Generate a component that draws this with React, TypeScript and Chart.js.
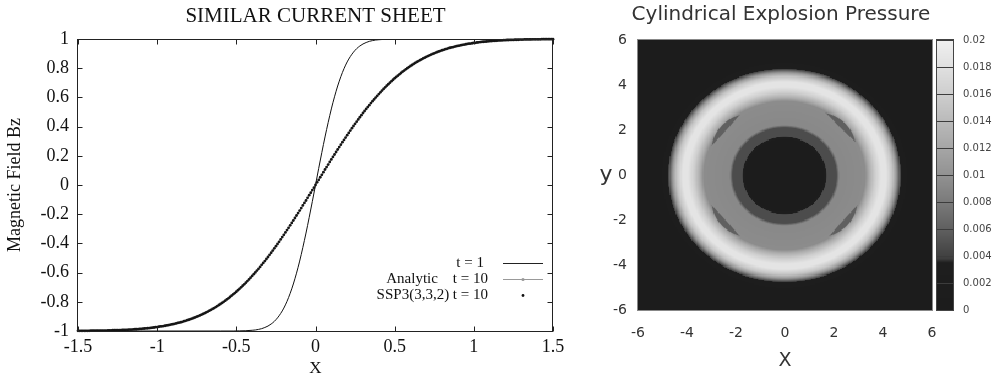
import React, { useEffect, useRef } from "react";
import { Chart, registerables } from "chart.js";
Chart.register(...registerables);

const SERIF = "'Liberation Serif', 'Times New Roman', serif";
const SANS = "'DejaVu Sans', 'Bitstream Vera Sans', sans-serif";

// ---------------- Left panel: similar current sheet ----------------
const leftTitle = "SIMILAR CURRENT SHEET";
const leftXTitle = "X";
const leftYTitle = "Magnetic Field Bz";
const xTicksLeft = [-1.5, -1, -0.5, 0, 0.5, 1, 1.5];
const yTicksLeft = [-1, -0.8, -0.6, -0.4, -0.2, 0, 0.2, 0.4, 0.6, 0.8, 1];
const legendLabels = ["t = 1", "Analytic    t = 10", "SSP3(3,3,2) t = 10"];

// t = 1 curve
const t1X = [-1.5, -1.0, -0.6, -0.52, -0.48, -0.44,
  -0.4, -0.38, -0.36, -0.34, -0.32, -0.3, -0.28, -0.26, -0.24, -0.22,
  -0.2, -0.18, -0.16, -0.14, -0.12, -0.1, -0.08, -0.06, -0.04, -0.02,
  0,
  0.02, 0.04, 0.06, 0.08, 0.1, 0.12, 0.14, 0.16, 0.18, 0.2,
  0.22, 0.24, 0.26, 0.28, 0.3, 0.32, 0.34, 0.36, 0.38, 0.4,
  0.44, 0.48, 0.52, 0.6, 1.0, 1.5];
const t1Y = [-1, -1, -1, -1, -0.999, -0.998,
  -0.995, -0.993, -0.989, -0.984, -0.976, -0.966, -0.952, -0.934, -0.910, -0.880,
  -0.843, -0.797, -0.742, -0.678, -0.604, -0.521, -0.428, -0.329, -0.223, -0.113,
  0,
  0.113, 0.223, 0.329, 0.428, 0.521, 0.604, 0.678, 0.742, 0.797, 0.843,
  0.880, 0.910, 0.934, 0.952, 0.966, 0.976, 0.984, 0.989, 0.993, 0.995,
  0.998, 0.999, 1, 1, 1, 1];

// Analytic t = 10
const anaX = [-1.5, -1.4, -1.3, -1.2, -1.1, -1.0, -0.9, -0.8, -0.7, -0.6, -0.5, -0.4, -0.3, -0.2, -0.1,
  0, 0.1, 0.2, 0.3, 0.4, 0.5, 0.6, 0.7, 0.8, 0.9, 1.0, 1.1, 1.2, 1.3, 1.4, 1.5];
const anaY = [-0.999, -0.998, -0.996, -0.992, -0.985, -0.973, -0.953, -0.923, -0.878, -0.815, -0.731, -0.623, -0.493, -0.341, -0.175,
  0, 0.175, 0.341, 0.493, 0.623, 0.731, 0.815, 0.878, 0.923, 0.953, 0.973, 0.985, 0.992, 0.996, 0.998, 0.999];

// SSP3(3,3,2) t = 10 points
const dotX = [
  -1.5, -1.49, -1.48, -1.47, -1.46, -1.45, -1.44, -1.43, -1.42, -1.41,
  -1.4, -1.39, -1.38, -1.37, -1.36, -1.35, -1.34, -1.33, -1.32, -1.31,
  -1.3, -1.29, -1.28, -1.27, -1.26, -1.25, -1.24, -1.23, -1.22, -1.21,
  -1.2, -1.19, -1.18, -1.17, -1.16, -1.15, -1.14, -1.13, -1.12, -1.11,
  -1.1, -1.09, -1.08, -1.07, -1.06, -1.05, -1.04, -1.03, -1.02, -1.01,
  -1.0, -0.99, -0.98, -0.97, -0.96, -0.95, -0.94, -0.93, -0.92, -0.91,
  -0.9, -0.89, -0.88, -0.87, -0.86, -0.85, -0.84, -0.83, -0.82, -0.81,
  -0.8, -0.79, -0.78, -0.77, -0.76, -0.75, -0.74, -0.73, -0.72, -0.71,
  -0.7, -0.69, -0.68, -0.67, -0.66, -0.65, -0.64, -0.63, -0.62, -0.61,
  -0.6, -0.59, -0.58, -0.57, -0.56, -0.55, -0.54, -0.53, -0.52, -0.51,
  -0.5, -0.49, -0.48, -0.47, -0.46, -0.45, -0.44, -0.43, -0.42, -0.41,
  -0.4, -0.39, -0.38, -0.37, -0.36, -0.35, -0.34, -0.33, -0.32, -0.31,
  -0.3, -0.29, -0.28, -0.27, -0.26, -0.25, -0.24, -0.23, -0.22, -0.21,
  -0.2, -0.19, -0.18, -0.17, -0.16, -0.15, -0.14, -0.13, -0.12, -0.11,
  -0.1, -0.09, -0.08, -0.07, -0.06, -0.05, -0.04, -0.03, -0.02, -0.01,
  0,
  0.01, 0.02, 0.03, 0.04, 0.05, 0.06, 0.07, 0.08, 0.09, 0.1,
  0.11, 0.12, 0.13, 0.14, 0.15, 0.16, 0.17, 0.18, 0.19, 0.2,
  0.21, 0.22, 0.23, 0.24, 0.25, 0.26, 0.27, 0.28, 0.29, 0.3,
  0.31, 0.32, 0.33, 0.34, 0.35, 0.36, 0.37, 0.38, 0.39, 0.4,
  0.41, 0.42, 0.43, 0.44, 0.45, 0.46, 0.47, 0.48, 0.49, 0.5,
  0.51, 0.52, 0.53, 0.54, 0.55, 0.56, 0.57, 0.58, 0.59, 0.6,
  0.61, 0.62, 0.63, 0.64, 0.65, 0.66, 0.67, 0.68, 0.69, 0.7,
  0.71, 0.72, 0.73, 0.74, 0.75, 0.76, 0.77, 0.78, 0.79, 0.8,
  0.81, 0.82, 0.83, 0.84, 0.85, 0.86, 0.87, 0.88, 0.89, 0.9,
  0.91, 0.92, 0.93, 0.94, 0.95, 0.96, 0.97, 0.98, 0.99, 1.0,
  1.01, 1.02, 1.03, 1.04, 1.05, 1.06, 1.07, 1.08, 1.09, 1.1,
  1.11, 1.12, 1.13, 1.14, 1.15, 1.16, 1.17, 1.18, 1.19, 1.2,
  1.21, 1.22, 1.23, 1.24, 1.25, 1.26, 1.27, 1.28, 1.29, 1.3,
  1.31, 1.32, 1.33, 1.34, 1.35, 1.36, 1.37, 1.38, 1.39, 1.4,
  1.41, 1.42, 1.43, 1.44, 1.45, 1.46, 1.47, 1.48, 1.49, 1.5,
];
const dotY = [
  -0.999, -0.999, -0.999, -0.999, -0.999, -0.999, -0.999, -0.999, -0.998, -0.998,
  -0.998, -0.998, -0.998, -0.998, -0.997, -0.997, -0.997, -0.997, -0.997, -0.996,
  -0.996, -0.996, -0.995, -0.995, -0.995, -0.994, -0.994, -0.994, -0.993, -0.993,
  -0.992, -0.992, -0.991, -0.990, -0.990, -0.989, -0.988, -0.988, -0.987, -0.986,
  -0.985, -0.984, -0.983, -0.982, -0.981, -0.980, -0.979, -0.977, -0.976, -0.974,
  -0.973, -0.971, -0.969, -0.968, -0.966, -0.964, -0.962, -0.960, -0.958, -0.955,
  -0.953, -0.951, -0.948, -0.945, -0.942, -0.940, -0.937, -0.933, -0.930, -0.926,
  -0.923, -0.919, -0.915, -0.911, -0.907, -0.902, -0.898, -0.893, -0.888, -0.883,
  -0.878, -0.872, -0.867, -0.861, -0.855, -0.849, -0.843, -0.836, -0.829, -0.822,
  -0.815, -0.808, -0.800, -0.792, -0.784, -0.776, -0.767, -0.758, -0.749, -0.740,
  -0.731, -0.721, -0.711, -0.701, -0.690, -0.680, -0.669, -0.658, -0.647, -0.635,
  -0.623, -0.611, -0.599, -0.586, -0.574, -0.561, -0.547, -0.534, -0.521, -0.507,
  -0.493, -0.478, -0.464, -0.449, -0.434, -0.419, -0.404, -0.389, -0.373, -0.357,
  -0.341, -0.325, -0.309, -0.293, -0.276, -0.260, -0.243, -0.226, -0.209, -0.192,
  -0.175, -0.158, -0.140, -0.123, -0.106, -0.088, -0.070, -0.053, -0.035, -0.018,
  0,
  0.018, 0.035, 0.053, 0.070, 0.088, 0.106, 0.123, 0.140, 0.158, 0.175,
  0.192, 0.209, 0.226, 0.243, 0.260, 0.276, 0.293, 0.309, 0.325, 0.341,
  0.357, 0.373, 0.389, 0.404, 0.419, 0.434, 0.449, 0.464, 0.478, 0.493,
  0.507, 0.521, 0.534, 0.547, 0.561, 0.574, 0.586, 0.599, 0.611, 0.623,
  0.635, 0.647, 0.658, 0.669, 0.680, 0.690, 0.701, 0.711, 0.721, 0.731,
  0.740, 0.749, 0.758, 0.767, 0.776, 0.784, 0.792, 0.800, 0.808, 0.815,
  0.822, 0.829, 0.836, 0.843, 0.849, 0.855, 0.861, 0.867, 0.872, 0.878,
  0.883, 0.888, 0.893, 0.898, 0.902, 0.907, 0.911, 0.915, 0.919, 0.923,
  0.926, 0.930, 0.933, 0.937, 0.940, 0.942, 0.945, 0.948, 0.951, 0.953,
  0.955, 0.958, 0.960, 0.962, 0.964, 0.966, 0.968, 0.969, 0.971, 0.973,
  0.974, 0.976, 0.977, 0.979, 0.980, 0.981, 0.982, 0.983, 0.984, 0.985,
  0.986, 0.987, 0.988, 0.988, 0.989, 0.990, 0.990, 0.991, 0.992, 0.992,
  0.993, 0.993, 0.994, 0.994, 0.994, 0.995, 0.995, 0.995, 0.996, 0.996,
  0.996, 0.997, 0.997, 0.997, 0.997, 0.997, 0.998, 0.998, 0.998, 0.998,
  0.998, 0.998, 0.999, 0.999, 0.999, 0.999, 0.999, 0.999, 0.999, 0.999,
];

// ---------------- Right panel: cylindrical explosion pressure ----------------
const rightTitle = "Cylindrical Explosion Pressure";
const mapTicks = [-6, -4, -2, 0, 2, 4, 6];
const barTicks = [0, 0.002, 0.004, 0.006, 0.008, 0.01, 0.012, 0.014, 0.016, 0.018, 0.02];
const barTickLabels = ["0", "0.002", "0.004", "0.006", "0.008", "0.01", "0.012", "0.014", "0.016", "0.018", "0.02"];
// radial pressure profile
const ringRadii = [0, 1.62, 1.74, 2.12, 2.24, 3.3, 3.45, 3.7, 3.95, 4.15, 4.4, 4.55, 4.68, 4.8, 5.0, 9];
const ringPressure = [0.0008, 0.0008, 0.0047, 0.0047, 0.0092, 0.0095, 0.0125, 0.016, 0.0185, 0.0185, 0.015, 0.011, 0.006, 0.002, 0.0008, 0.0008];
// darker crescents near the diagonals
const hornAngles = [43, 140, 220, 320];
const hornPressure = [0.006, 0.006, 0.006, 0.006];
const hornRadius = 3.25;
const hornThickness = 0.16;
const hornHalfWidth = 17;
// grey colour map of the colour bar
const cmapValues = [0, 0.0035, 0.0038, 0.006, 0.008, 0.01, 0.012, 0.014, 0.016, 0.018, 0.02];
const cmapGrays = [28, 30, 62, 96, 122, 146, 166, 186, 206, 224, 240];

function interp(xs: number[], ys: number[], v: number) {
  if (v <= xs[0]) return ys[0];
  for (let i = 1; i < xs.length; i++) {
    if (v <= xs[i]) {
      const t = (v - xs[i - 1]) / (xs[i] - xs[i - 1]);
      return ys[i - 1] + t * (ys[i] - ys[i - 1]);
    }
  }
  return ys[ys.length - 1];
}
function grayOf(p: number) {
  const g = Math.round(interp(cmapValues, cmapGrays, p));
  return `rgb(${g},${g},${g})`;
}
function pressureAt(x: number, y: number) {
  const r = Math.hypot(x, y);
  let p = interp(ringRadii, ringPressure, r);
  let th = (Math.atan2(y, x) * 180) / Math.PI;
  if (th < 0) th += 360;
  hornAngles.forEach((a, k) => {
    let d = Math.abs(th - a);
    if (d > 180) d = 360 - d;
    if (d < hornHalfWidth) {
      const w = 1 - (d / hornHalfWidth) * (d / hornHalfWidth);
      const h = hornThickness * w;
      const dist = Math.abs(r - hornRadius);
      if (dist < h) {
        const s = Math.min(1, (h - dist) / 0.05);
        p = p * (1 - s) + hornPressure[k] * s;
      }
    }
  });
  return p;
}

const CELL = 0.05;
const NCELL = 240;
const cellCenters: number[] = [];
for (let i = 0; i < NCELL; i++) cellCenters.push(-6 + (i + 0.5) * CELL);
const pressureTable: number[][] = cellCenters.map((yc) => cellCenters.map((xc) => pressureAt(xc, yc)));

// ---------------- plugins ----------------
const leftDecor = {
  id: "leftDecor",
  afterDatasetsDraw(chart: any) {
    const { ctx, chartArea: a, scales } = chart;
    const xs = scales.x, ys = scales.y;
    ctx.save();
    ctx.strokeStyle = "#222";
    ctx.lineWidth = 1;
    const L = Math.round(a.left) - 0.5, R = Math.round(a.right) - 0.5;
    const T = Math.round(a.top) + 0.5, B = Math.round(a.bottom) + 0.5;
    ctx.strokeRect(L, T, R - L, B - T);
    ctx.beginPath();
    xTicksLeft.forEach((v) => {
      const px = Math.round(xs.getPixelForValue(v)) + 0.5;
      ctx.moveTo(px, B); ctx.lineTo(px, B - 5);
      ctx.moveTo(px, T); ctx.lineTo(px, T + 5);
    });
    yTicksLeft.forEach((v) => {
      const py = Math.round(ys.getPixelForValue(v)) + 0.5;
      ctx.moveTo(L, py); ctx.lineTo(L + 5, py);
      ctx.moveTo(R, py); ctx.lineTo(R - 5, py);
    });
    ctx.stroke();

    // legend
    ctx.font = `15px ${SERIF}`;
    ctx.fillStyle = "#111";
    ctx.textAlign = "right";
    ctx.textBaseline = "middle";
    const lx0 = a.right - 50, lx1 = a.right - 10, lm = a.right - 30;
    const rows = [a.bottom - 68, a.bottom - 52, a.bottom - 36];
    ctx.fillText(legendLabels[0], a.right - 69, rows[0]);
    ctx.fillText(legendLabels[1], a.right - 65, rows[1]);
    ctx.fillText(legendLabels[2], a.right - 65, rows[2]);
    ctx.strokeStyle = "#222";
    ctx.beginPath(); ctx.moveTo(lx0, Math.round(rows[0]) + 0.5); ctx.lineTo(lx1, Math.round(rows[0]) + 0.5); ctx.stroke();
    ctx.strokeStyle = "#999";
    ctx.beginPath(); ctx.moveTo(lx0, Math.round(rows[1]) + 0.5); ctx.lineTo(lx1, Math.round(rows[1]) + 0.5); ctx.stroke();
    ctx.fillStyle = "#999";
    ctx.beginPath(); ctx.arc(lm, rows[1] + 0.5, 1.6, 0, Math.PI * 2); ctx.fill();
    ctx.fillStyle = "#111";
    ctx.beginPath(); ctx.arc(lm, rows[2] + 0.5, 1.4, 0, Math.PI * 2); ctx.fill();

    // titles
    ctx.fillStyle = "#111";
    ctx.textAlign = "center";
    ctx.font = `21px ${SERIF}`;
    ctx.fillText(leftTitle, (a.left + a.right) / 2, 16);
    ctx.font = `17px ${SERIF}`;
    ctx.fillText(leftXTitle, (a.left + a.right) / 2, 369);
    ctx.save();
    ctx.translate(15, (a.top + a.bottom) / 2);
    ctx.rotate(-Math.PI / 2);
    ctx.font = `18px ${SERIF}`;
    ctx.fillText(leftYTitle, 0, 0);
    ctx.restore();
    ctx.restore();
  },
};

const heatmapPlugin = {
  id: "heatmap",
  beforeDatasetsDraw(chart: any) {
    const { ctx, chartArea: a, scales } = chart;
    const xs = scales.x, ys = scales.y, cb = scales.y2;
    ctx.save();
    for (let j = 0; j < NCELL; j++) {
      const yc = cellCenters[j];
      const py0 = Math.floor(ys.getPixelForValue(yc + CELL / 2));
      const py1 = Math.ceil(ys.getPixelForValue(yc - CELL / 2));
      for (let i = 0; i < NCELL; i++) {
        const xc = cellCenters[i];
        const px0 = Math.floor(xs.getPixelForValue(xc - CELL / 2));
        const px1 = Math.ceil(xs.getPixelForValue(xc + CELL / 2));
        ctx.fillStyle = grayOf(pressureTable[j][i]);
        ctx.fillRect(px0, py0, px1 - px0, py1 - py0);
      }
    }
    ctx.strokeStyle = "#888";
    ctx.lineWidth = 1;
    ctx.strokeRect(Math.round(a.left) - 0.5, Math.round(a.top) - 0.5, Math.round(a.right - a.left) + 1, Math.round(a.bottom - a.top) + 1);

    // colour bar
    const bx = Math.round(a.right) + 5, bw = 16;
    const top = Math.round(cb.getPixelForValue(0.02));
    const bot = Math.round(cb.getPixelForValue(0));
    for (let py = top; py < bot; py++) {
      ctx.fillStyle = grayOf(cb.getValueForPixel(py + 0.5));
      ctx.fillRect(bx, py, bw, 1);
    }
    ctx.strokeStyle = "#3c3c3c";
    ctx.beginPath();
    barTicks.forEach((v) => {
      const py = Math.round(cb.getPixelForValue(v)) + 0.5;
      ctx.moveTo(bx, py); ctx.lineTo(bx + bw, py);
    });
    ctx.stroke();
    ctx.strokeStyle = "#444";
    ctx.strokeRect(bx - 0.5, top - 0.5, bw + 1, bot - top + 1);
    ctx.restore();
  },
  afterDraw(chart: any) {
    const { ctx, chartArea: a, scales } = chart;
    ctx.save();
    ctx.fillStyle = "#333";
    ctx.textAlign = "center";
    ctx.textBaseline = "middle";
    ctx.font = `20px ${SANS}`;
    ctx.fillText(rightTitle, (a.left + a.right) / 2 - 4, 15);
    ctx.font = `19px ${SANS}`;
    ctx.fillText("X", (a.left + a.right) / 2, 361);
    ctx.font = `22px ${SANS}`;
    ctx.fillText("y", 46, scales.y.getPixelForValue(0));
    ctx.restore();
  },
};

function setTicks(values: number[]) {
  return (scale: any) => {
    scale.ticks = values.map((v) => ({ value: v }));
  };
}

export default function App() {
  const leftRef = useRef<HTMLCanvasElement>(null);
  const rightRef = useRef<HTMLCanvasElement>(null);

  useEffect(() => {
    const leftChart = new Chart(leftRef.current as HTMLCanvasElement, {
      type: "line",
      data: {
        datasets: [
          {
            label: legendLabels[0],
            data: t1X.map((x, i) => ({ x, y: t1Y[i] })),
            borderColor: "#111",
            borderWidth: 1,
            pointRadius: 0,
            cubicInterpolationMode: "monotone",
            fill: false,
            order: 0,
          },
          {
            label: legendLabels[1],
            data: anaX.map((x, i) => ({ x, y: anaY[i] })),
            borderColor: "#999",
            borderWidth: 1,
            pointRadius: 0,
            cubicInterpolationMode: "monotone",
            fill: false,
            order: 2,
          },
          {
            label: legendLabels[2],
            data: dotX.map((x, i) => ({ x, y: dotY[i] })),
            showLine: false,
            pointRadius: 1.4,
            pointBorderWidth: 0,
            pointBackgroundColor: "#161616",
            clip: false as any,
            order: 1,
          },
        ],
      } as any,
      options: {
        animation: false,
        responsive: false,
        events: [],
        layout: { padding: { top: 39, right: 47, left: 0, bottom: 0 }, autoPadding: false } as any,
        plugins: { legend: { display: false }, tooltip: { enabled: false } },
        scales: {
          x: {
            type: "linear",
            min: -1.5,
            max: 1.5,
            afterBuildTicks: setTicks(xTicksLeft),
            afterFit: (s: any) => { s.height = 49; },
            grid: { display: false, drawTicks: false },
            border: { display: false },
            ticks: { font: { family: SERIF, size: 18 }, color: "#111", padding: 5, maxRotation: 0, callback: (v: any) => String(v) },
          },
          y: {
            type: "linear",
            min: -1,
            max: 1,
            afterBuildTicks: setTicks(yTicksLeft),
            afterFit: (s: any) => { s.width = 78; },
            grid: { display: false, drawTicks: false },
            border: { display: false },
            ticks: { font: { family: SERIF, size: 18 }, color: "#111", padding: 9, callback: (v: any) => String(Math.round(v * 10) / 10) },
          },
        },
      } as any,
      plugins: [leftDecor],
    });

    const rightChart = new Chart(rightRef.current as HTMLCanvasElement, {
      type: "scatter",
      data: { datasets: [{ label: "pressure", data: [], pointRadius: 0 }] },
      options: {
        animation: false,
        responsive: false,
        events: [],
        layout: { padding: { top: 40, right: 0, left: 0, bottom: 0 }, autoPadding: false } as any,
        plugins: { legend: { display: false }, tooltip: { enabled: false } },
        scales: {
          x: {
            type: "linear",
            min: -6,
            max: 6,
            afterBuildTicks: setTicks(mapTicks),
            afterFit: (s: any) => { s.height = 70; },
            grid: { display: false, drawTicks: false },
            border: { display: false },
            ticks: { font: { family: SANS, size: 14 }, color: "#333", padding: 15, maxRotation: 0, callback: (v: any) => String(v) },
          },
          y: {
            type: "linear",
            position: "left",
            min: -6,
            max: 6,
            afterBuildTicks: setTicks(mapTicks),
            afterFit: (s: any) => { s.width = 78; },
            grid: { display: false, drawTicks: false },
            border: { display: false },
            ticks: { font: { family: SANS, size: 14 }, color: "#333", padding: 11, callback: (v: any) => String(v) },
          },
          y2: {
            type: "linear",
            position: "right",
            min: 0,
            max: 0.02,
            afterBuildTicks: setTicks(barTicks),
            afterFit: (s: any) => { s.width = 60; },
            grid: { display: false, drawTicks: false },
            border: { display: false },
            ticks: {
              font: { family: SANS, size: 10 },
              color: "#444",
              padding: 31,
              callback: (v: any) => barTickLabels[barTicks.findIndex((b) => Math.abs(b - v) < 1e-9)] ?? "",
            },
          },
        },
      } as any,
      plugins: [heatmapPlugin],
    });

    return () => {
      leftChart.destroy();
      rightChart.destroy();
    };
  }, []);

  return (
    <div style={{ position: "absolute", left: 0, top: 0, width: 992, height: 380, background: "#fff", overflow: "hidden" }}>
      <canvas ref={leftRef} width={600} height={380} style={{ position: "absolute", left: 0, top: 0, width: 600, height: 380 }} />
      <canvas ref={rightRef} width={432} height={380} style={{ position: "absolute", left: 560, top: 0, width: 432, height: 380 }} />
    </div>
  );
}
